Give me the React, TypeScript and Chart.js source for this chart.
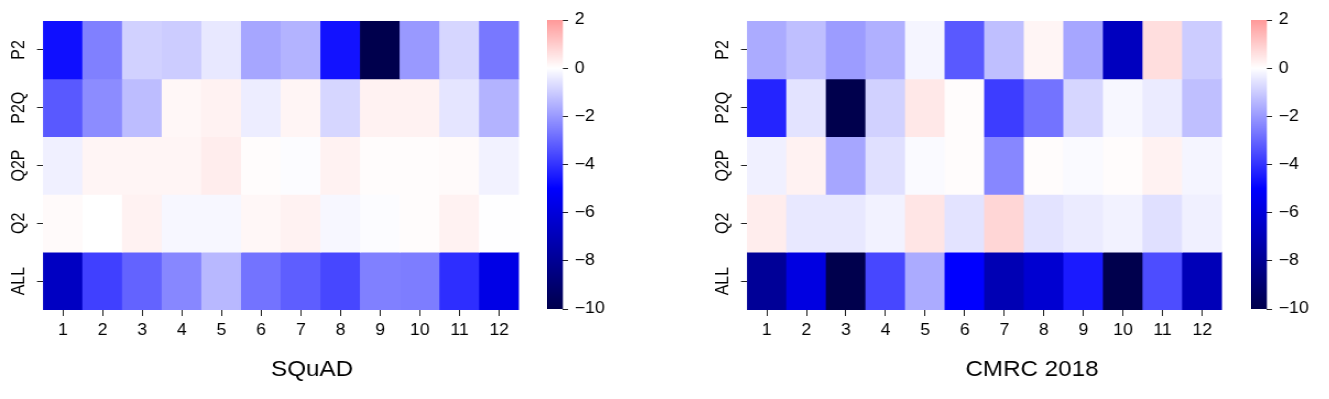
import React, { useEffect, useRef } from 'react';
import { Chart, registerables } from 'chart.js';

Chart.register(...registerables);

// ---------- data ----------
const layers = ['1', '2', '3', '4', '5', '6', '7', '8', '9', '10', '11', '12'];
const rowLabels = ['P2', 'P2Q', 'Q2P', 'Q2', 'ALL'];

const squadP2 = [-4.7, -2.5, -0.9, -1.0, -0.45, -1.75, -1.5, -4.65, -10, -2.0, -0.8, -2.65];
const squadP2Q = [-3.25, -2.25, -1.3, 0.15, 0.25, -0.35, 0.2, -0.8, 0.25, 0.25, -0.5, -1.5];
const squadQ2P = [-0.3, 0.2, 0.2, 0.2, 0.35, 0.05, -0.05, 0.25, 0.05, 0.05, 0.1, -0.25];
const squadQ2 = [0.1, 0, 0.25, -0.15, -0.15, 0.15, 0.25, -0.15, -0.05, 0.05, 0.25, -0.02];
const squadALL = [-6.7, -3.75, -3.05, -2.35, -1.4, -2.75, -3.15, -3.6, -2.5, -2.55, -4.1, -5.7];

const cmrcP2 = [-1.65, -1.25, -1.95, -1.55, -0.2, -3.25, -1.25, 0.2, -1.75, -6.8, 0.65, -1.0];
const cmrcP2Q = [-4.3, -0.55, -10, -0.9, 0.45, 0.05, -3.8, -2.75, -0.8, -0.15, -0.4, -1.25];
const cmrcQ2P = [-0.3, 0.25, -1.75, -0.6, -0.1, 0.05, -2.35, 0.05, -0.1, 0.05, 0.25, -0.2];
const cmrcQ2 = [0.35, -0.45, -0.45, -0.25, 0.5, -0.55, 0.8, -0.55, -0.4, -0.25, -0.6, -0.3];
const cmrcALL = [-7.9, -5.85, -10, -3.6, -1.65, -5, -7.1, -6.3, -4.5, -10, -3.5, -7.0];

const colorbarTicks = [-10, -8, -6, -4, -2, 0, 2];
const V_MIN = -10;
const V_MAX = 2;
const V_CENTER = 0;

// ---------- style ----------
const FONT = "'Liberation Sans', Arial, Helvetica, sans-serif";
const TEXT = '#000000';
const TICK = '#222222';
const STRETCH = 1.1; // the reference figure is slightly wider than tall-proportioned

// matplotlib "seismic" colormap, centred on V_CENTER (seaborn-style)
const SEISMIC: [number, number, number, number][] = [
  [0.0, 0.0, 0.0, 0.3],
  [0.25, 0.0, 0.0, 1.0],
  [0.5, 1.0, 1.0, 1.0],
  [0.75, 1.0, 0.0, 0.0],
  [1.0, 0.5, 0.0, 0.0],
];
function seismic(v: number): string {
  const half = Math.max(V_MAX - V_CENTER, V_CENTER - V_MIN);
  const vv = Math.min(V_MAX, Math.max(V_MIN, v));
  const t = (vv - (V_CENTER - half)) / (2 * half);
  for (let i = 0; i < SEISMIC.length - 1; i++) {
    const a = SEISMIC[i];
    const b = SEISMIC[i + 1];
    if (t >= a[0] && t <= b[0]) {
      const f = (t - a[0]) / (b[0] - a[0]);
      const r = Math.round(255 * (a[1] + (b[1] - a[1]) * f));
      const g = Math.round(255 * (a[2] + (b[2] - a[2]) * f));
      const bl = Math.round(255 * (a[3] + (b[3] - a[3]) * f));
      return `rgb(${r},${g},${bl})`;
    }
  }
  return 'rgb(0,0,77)';
}

const fmtMinus = (v: number) => (v < 0 ? '\u2212' + Math.abs(v) : String(v));

// ---------- heatmap panel ----------
type PanelProps = {
  rows: number[][];
  title: string;
  left: number;
  titleCenter: number;
  areaRight: number;
};

function HeatmapPanel({ rows, title, left, titleCenter, areaRight }: PanelProps) {
  const ref = useRef<HTMLCanvasElement>(null);
  const cssW = Math.round(2 * (titleCenter - left));
  const height = 399;
  const innerW = Math.round(cssW / STRETCH);
  const sx = cssW / innerW;
  const yAxisW = 43 / sx;
  const padRight = (cssW - (areaRight - left)) / sx;

  useEffect(() => {
    const font = { family: FONT, size: 16 };
    const chart = new Chart(ref.current as HTMLCanvasElement, {
      type: 'bar',
      data: {
        labels: layers,
        datasets: rows.map((vals, r) => ({
          label: rowLabels[r],
          data: vals.map(() => [r, r + 1]),
          backgroundColor: vals.map(seismic),
          borderWidth: 0,
          barPercentage: 1,
          categoryPercentage: 1,
          grouped: false,
        })) as any,
      },
      options: {
        responsive: false,
        animation: false,
        events: [],
        layout: { padding: { top: 21, left: 0, right: 0, bottom: 0 } },
        plugins: {
          legend: { display: false },
          tooltip: { enabled: false },
          title: {
            display: true,
            text: title,
            position: 'bottom',
            color: TEXT,
            font: { family: FONT, size: 22, weight: 'normal' },
            padding: { top: 8, bottom: 16 },
          },
        },
        scales: {
          x: {
            type: 'category',
            offset: true,
            border: { display: false },
            grid: {
              display: true,
              drawOnChartArea: false,
              drawTicks: true,
              tickLength: 6,
              offset: false,
              color: TICK,
            },
            ticks: { font, color: TEXT, padding: 5, maxRotation: 0, autoSkip: false },
            afterFit: (s: any) => {
              s.height = 38.6;
            },
          },
          y: {
            type: 'linear',
            min: 0,
            max: rowLabels.length,
            reverse: true,
            border: { display: false },
            grid: { display: true, drawOnChartArea: false, tickLength: 6 / sx, color: TICK },
            afterBuildTicks: (s: any) => {
              s.ticks = rowLabels.map((_, i) => ({ value: i + 0.5 }));
            },
            ticks: {
              font,
              color: TEXT,
              minRotation: 90,
              maxRotation: 90,
              crossAlign: 'center',
              padding: 0,
              callback: (v: any) => rowLabels[Math.floor(Number(v))],
            },
            afterFit: (s: any) => {
              s.width = yAxisW;
            },
          },
          pad: {
            type: 'linear',
            position: 'right',
            display: true,
            border: { display: false },
            grid: { display: false },
            ticks: { display: false },
            afterFit: (s: any) => {
              s.width = padRight;
            },
          },
        },
      } as any,
    });
    return () => chart.destroy();
  }, [rows, title, padRight, yAxisW, sx]);

  return (
    <canvas
      ref={ref}
      width={innerW}
      height={height}
      style={{ position: 'absolute', left: left, top: 0, width: cssW, height }}
    />
  );
}

// ---------- colorbar ----------
function Colorbar({ left }: { left: number }) {
  const ref = useRef<HTMLCanvasElement>(null);
  const cssW = 72;
  const height = 340;
  const innerW = Math.round(cssW / STRETCH);
  const sx = cssW / innerW;
  const barW = 16 / sx;

  useEffect(() => {
    const chart = new Chart(ref.current as HTMLCanvasElement, {
      type: 'bar',
      data: {
        labels: ['colorbar'],
        datasets: [
          {
            data: [[V_MIN, V_MAX]],
            borderWidth: 0,
            barPercentage: 1,
            categoryPercentage: 1,
            backgroundColor: (ctx: any) => {
              const c = ctx.chart;
              if (!c.chartArea) return 'transparent';
              const ys = c.scales.y;
              const y0 = ys.getPixelForValue(V_MIN);
              const y1 = ys.getPixelForValue(V_MAX);
              const g = c.ctx.createLinearGradient(0, y0, 0, y1);
              const n = 48;
              for (let i = 0; i <= n; i++) {
                const v = V_MIN + ((V_MAX - V_MIN) * i) / n;
                g.addColorStop(i / n, seismic(v));
              }
              return g;
            },
          },
        ] as any,
      },
      options: {
        responsive: false,
        animation: false,
        events: [],
        layout: { padding: { top: 20, bottom: height - 309, left: 0, right: 0 } },
        plugins: { legend: { display: false }, tooltip: { enabled: false } },
        scales: {
          x: { display: false, offset: true },
          y: {
            type: 'linear',
            position: 'right',
            min: V_MIN,
            max: V_MAX,
            border: { display: false },
            grid: { display: true, drawOnChartArea: false, tickLength: 5 / sx, color: TICK },
            afterBuildTicks: (s: any) => {
              s.ticks = colorbarTicks.map((v) => ({ value: v }));
            },
            ticks: {
              font: { family: FONT, size: 16 },
              color: TEXT,
              padding: 6,
              callback: (v: any) => fmtMinus(Number(v)),
            },
            afterFit: (s: any) => {
              s.width = innerW - barW;
            },
          },
        },
      } as any,
    });
    return () => chart.destroy();
  }, [innerW, barW, sx]);

  return (
    <canvas
      ref={ref}
      width={innerW}
      height={height}
      style={{ position: 'absolute', left, top: 0, width: cssW, height }}
    />
  );
}

const squadRows = [squadP2, squadP2Q, squadQ2P, squadQ2, squadALL];
const cmrcRows = [cmrcP2, cmrcP2Q, cmrcQ2P, cmrcQ2, cmrcALL];

export default function App() {
  return (
    <>
      <style>{`html,body{margin:0;padding:0;background:#fff;overflow:hidden;}`}</style>
      <div
        style={{
          position: 'relative',
          width: 1329,
          height: 399,
          overflow: 'hidden',
          background: '#ffffff',
        }}
      >
        <HeatmapPanel rows={squadRows} title="SQuAD" left={0} titleCenter={312} areaRight={519} />
        <Colorbar left={547} />
        <HeatmapPanel rows={cmrcRows} title="CMRC 2018" left={704} titleCenter={1032} areaRight={1222} />
        <Colorbar left={1251} />
      </div>
    </>
  );
}
